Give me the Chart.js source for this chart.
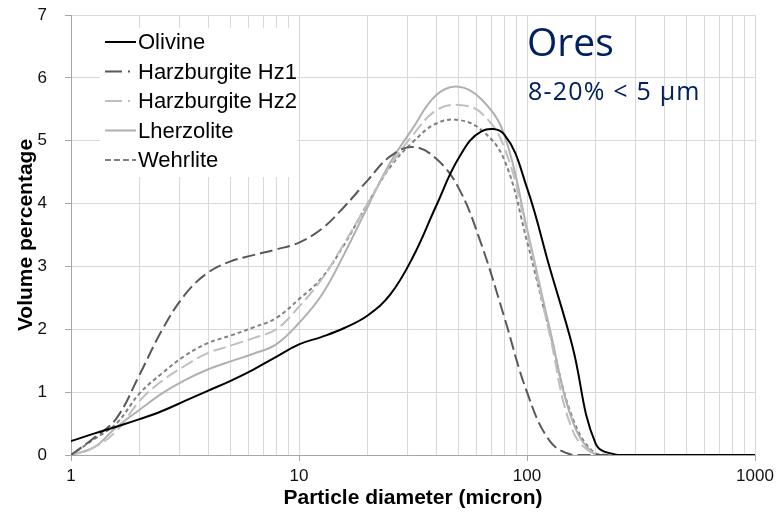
<!DOCTYPE html>
<html>
<head>
<meta charset="utf-8">
<script src="https://cdn.jsdelivr.net/npm/chart.js@4.4.0/dist/chart.umd.min.js"></script>
<style>
  html, body { margin: 0; padding: 0; background: #fff; }
  #wrap { width: 779px; height: 515px; position: relative; }
</style>
</head>
<body>
<div id="wrap"><canvas id="chart"></canvas></div>
<script>
// particle diameter (micron), log-spaced size classes
const diameters = [1, 1.26, 1.58, 2, 2.51, 3.16, 3.98, 5.01, 6.31, 7.94, 10, 12.6, 15.8, 20, 25.1, 31.6, 39.8, 50.1, 63.1, 79.4, 100, 126, 158, 200, 251, 316, 398, 501, 631, 794, 1000];

// volume percentage per sample
const olivine    = [0.22, 0.34, 0.45, 0.57, 0.70, 0.86, 1.02, 1.18, 1.36, 1.56, 1.76, 1.88, 2.02, 2.22, 2.55, 3.15, 3.95, 4.72, 5.15, 5.10, 4.25, 2.97, 1.74, 0.18, 0, 0, 0, 0, 0, 0, 0];
const harzHz1    = [0, 0.27, 0.58, 1.28, 1.99, 2.55, 2.90, 3.08, 3.18, 3.27, 3.38, 3.60, 3.95, 4.37, 4.75, 4.90, 4.72, 4.25, 3.35, 2.20, 1.00, 0.22, 0, 0, 0, 0, 0, 0, 0, 0, 0];
const harzHz2    = [0, 0.12, 0.38, 0.86, 1.18, 1.42, 1.62, 1.74, 1.86, 2.00, 2.36, 2.80, 3.37, 4.00, 4.60, 5.09, 5.48, 5.57, 5.44, 4.90, 3.55, 1.90, 0.40, 0, 0, 0, 0, 0, 0, 0, 0];
const lherzolite = [0, 0.12, 0.44, 0.72, 0.98, 1.19, 1.36, 1.49, 1.61, 1.76, 2.10, 2.55, 3.20, 3.95, 4.65, 5.20, 5.72, 5.86, 5.66, 5.10, 3.60, 2.00, 0.55, 0, 0, 0, 0, 0, 0, 0, 0];
const wehrlite   = [0, 0.25, 0.50, 0.98, 1.30, 1.58, 1.78, 1.90, 2.03, 2.18, 2.48, 2.82, 3.35, 4.00, 4.58, 4.98, 5.27, 5.33, 5.17, 4.70, 3.40, 1.95, 0.60, 0.02, 0, 0, 0, 0, 0, 0, 0];

const seriesNames = ['Olivine', 'Harzburgite Hz1', 'Harzburgite Hz2', 'Lherzolite', 'Wehrlite'];
const yTicks = [0, 1, 2, 3, 4, 5, 6, 7];
const xMajor = [1, 10, 100, 1000];

const toPoints = vals => diameters.map((d, i) => ({ x: d, y: vals[i] }));

const styles = [
    { color: '#000000', dash: [], legendDash: [] },
    { color: '#595959', dash: [13, 5], legendDash: [17, 6, 2, 20] },
    { color: '#bfbfbf', dash: [13, 5], legendDash: [17, 6, 2, 20] },
    { color: '#b0b0b0', dash: [], legendDash: [] },
    { color: '#808080', dash: [4, 3], legendDash: [6, 3] }
];
const allSeries = [olivine, harzHz1, harzHz2, lherzolite, wehrlite];

const datasets = allSeries.map((vals, i) => ({
    label: seriesNames[i],
    data: toPoints(vals),
    borderColor: styles[i].color,
    borderDash: styles[i].dash,
    borderWidth: 2,
    pointRadius: 0,
    fill: false,
    tension: 0.4
}));

const FONT = '"Liberation Sans", Arial, sans-serif';

// legend drawn in a white box inside the plot, top left, plus the annotation
const insideLegend = {
    id: 'insideLegend',
    afterDatasetsDraw(chart) {
        const ctx = chart.ctx;
        ctx.save();
        ctx.fillStyle = '#fff';
        ctx.fillRect(100, 28, 197, 149);
        ctx.font = '22px ' + FONT;
        ctx.textBaseline = 'middle';
        chart.data.datasets.forEach((ds, i) => {
            const y = 42 + i * 29.5;
            ctx.strokeStyle = ds.borderColor;
            ctx.lineWidth = 2;
            ctx.setLineDash(styles[i].legendDash);
            ctx.beginPath();
            ctx.moveTo(105, y);
            ctx.lineTo(136, y);
            ctx.stroke();
            ctx.setLineDash([]);
            ctx.fillStyle = '#000';
            ctx.fillText(ds.label, 138, y + 1);
        });
        // annotation text
        ctx.fillStyle = '#002060';
        ctx.font = '39px "Open Sans", "Noto Sans", sans-serif';
        ctx.textBaseline = 'alphabetic';
        ctx.fillText('Ores', 527, 56);
        ctx.font = '25px "Open Sans", "Noto Sans", sans-serif';
        ctx.letterSpacing = '1.2px';
        ctx.fillText('8-20% < 5 \u00b5m', 528, 100);
        ctx.restore();
    }
};

new Chart(document.getElementById('chart'), {
    type: 'line',
    data: { datasets: datasets },
    options: {
        responsive: true,
        maintainAspectRatio: false,
        animation: false,
        layout: { padding: { top: 15, right: 24, left: 0, bottom: 0 } },
        plugins: { legend: { display: false }, tooltip: { enabled: false } },
        scales: {
            x: {
                type: 'logarithmic',
                min: 1,
                max: 1000,
                afterBuildTicks: scale => {
                    const t = [];
                    for (let p = 1; p <= 100; p *= 10) {
                        for (let m = 1; m <= 9; m++) t.push({ value: m * p });
                    }
                    t.push({ value: 1000 });
                    scale.ticks = t;
                },
                afterFit: scale => { scale.height = 60; },
                ticks: {
                    autoSkip: false,
                    maxRotation: 0,
                    padding: 5,
                    color: '#111',
                    font: { family: FONT, size: 17 },
                    callback: v => xMajor.includes(v) ? String(v) : ''
                },
                grid: {
                    color: '#d9d9d9',
                    lineWidth: 1,
                    tickLength: 6,
                    tickColor: c => (c.tick && xMajor.includes(c.tick.value)) ? '#a6a6a6' : 'rgba(0,0,0,0)'
                },
                border: { color: '#a6a6a6', width: 1 },
                title: {
                    display: true,
                    text: 'Particle diameter (micron)',
                    color: '#000',
                    padding: { top: 0 },
                    font: { family: FONT, size: 21, weight: 'bold' }
                }
            },
            y: {
                min: 0,
                max: 7,
                afterBuildTicks: scale => { scale.ticks = yTicks.map(v => ({ value: v })); },
                afterFit: scale => {
                    scale.width = 71;
                    scale.paddingTop = 0;
                    scale.paddingBottom = 0;
                },
                ticks: {
                    padding: 18,
                    color: '#111',
                    font: { family: FONT, size: 17 }
                },
                grid: { color: '#d9d9d9', lineWidth: 1, tickLength: 6, tickColor: '#a6a6a6' },
                border: { color: '#a6a6a6', width: 1 },
                title: {
                    display: true,
                    text: 'Volume percentage',
                    color: '#000',
                    padding: { top: 14, bottom: 0 },
                    font: { family: FONT, size: 21, weight: 'bold' }
                }
            }
        }
    },
    plugins: [insideLegend]
});
</script>
</body>
</html>
